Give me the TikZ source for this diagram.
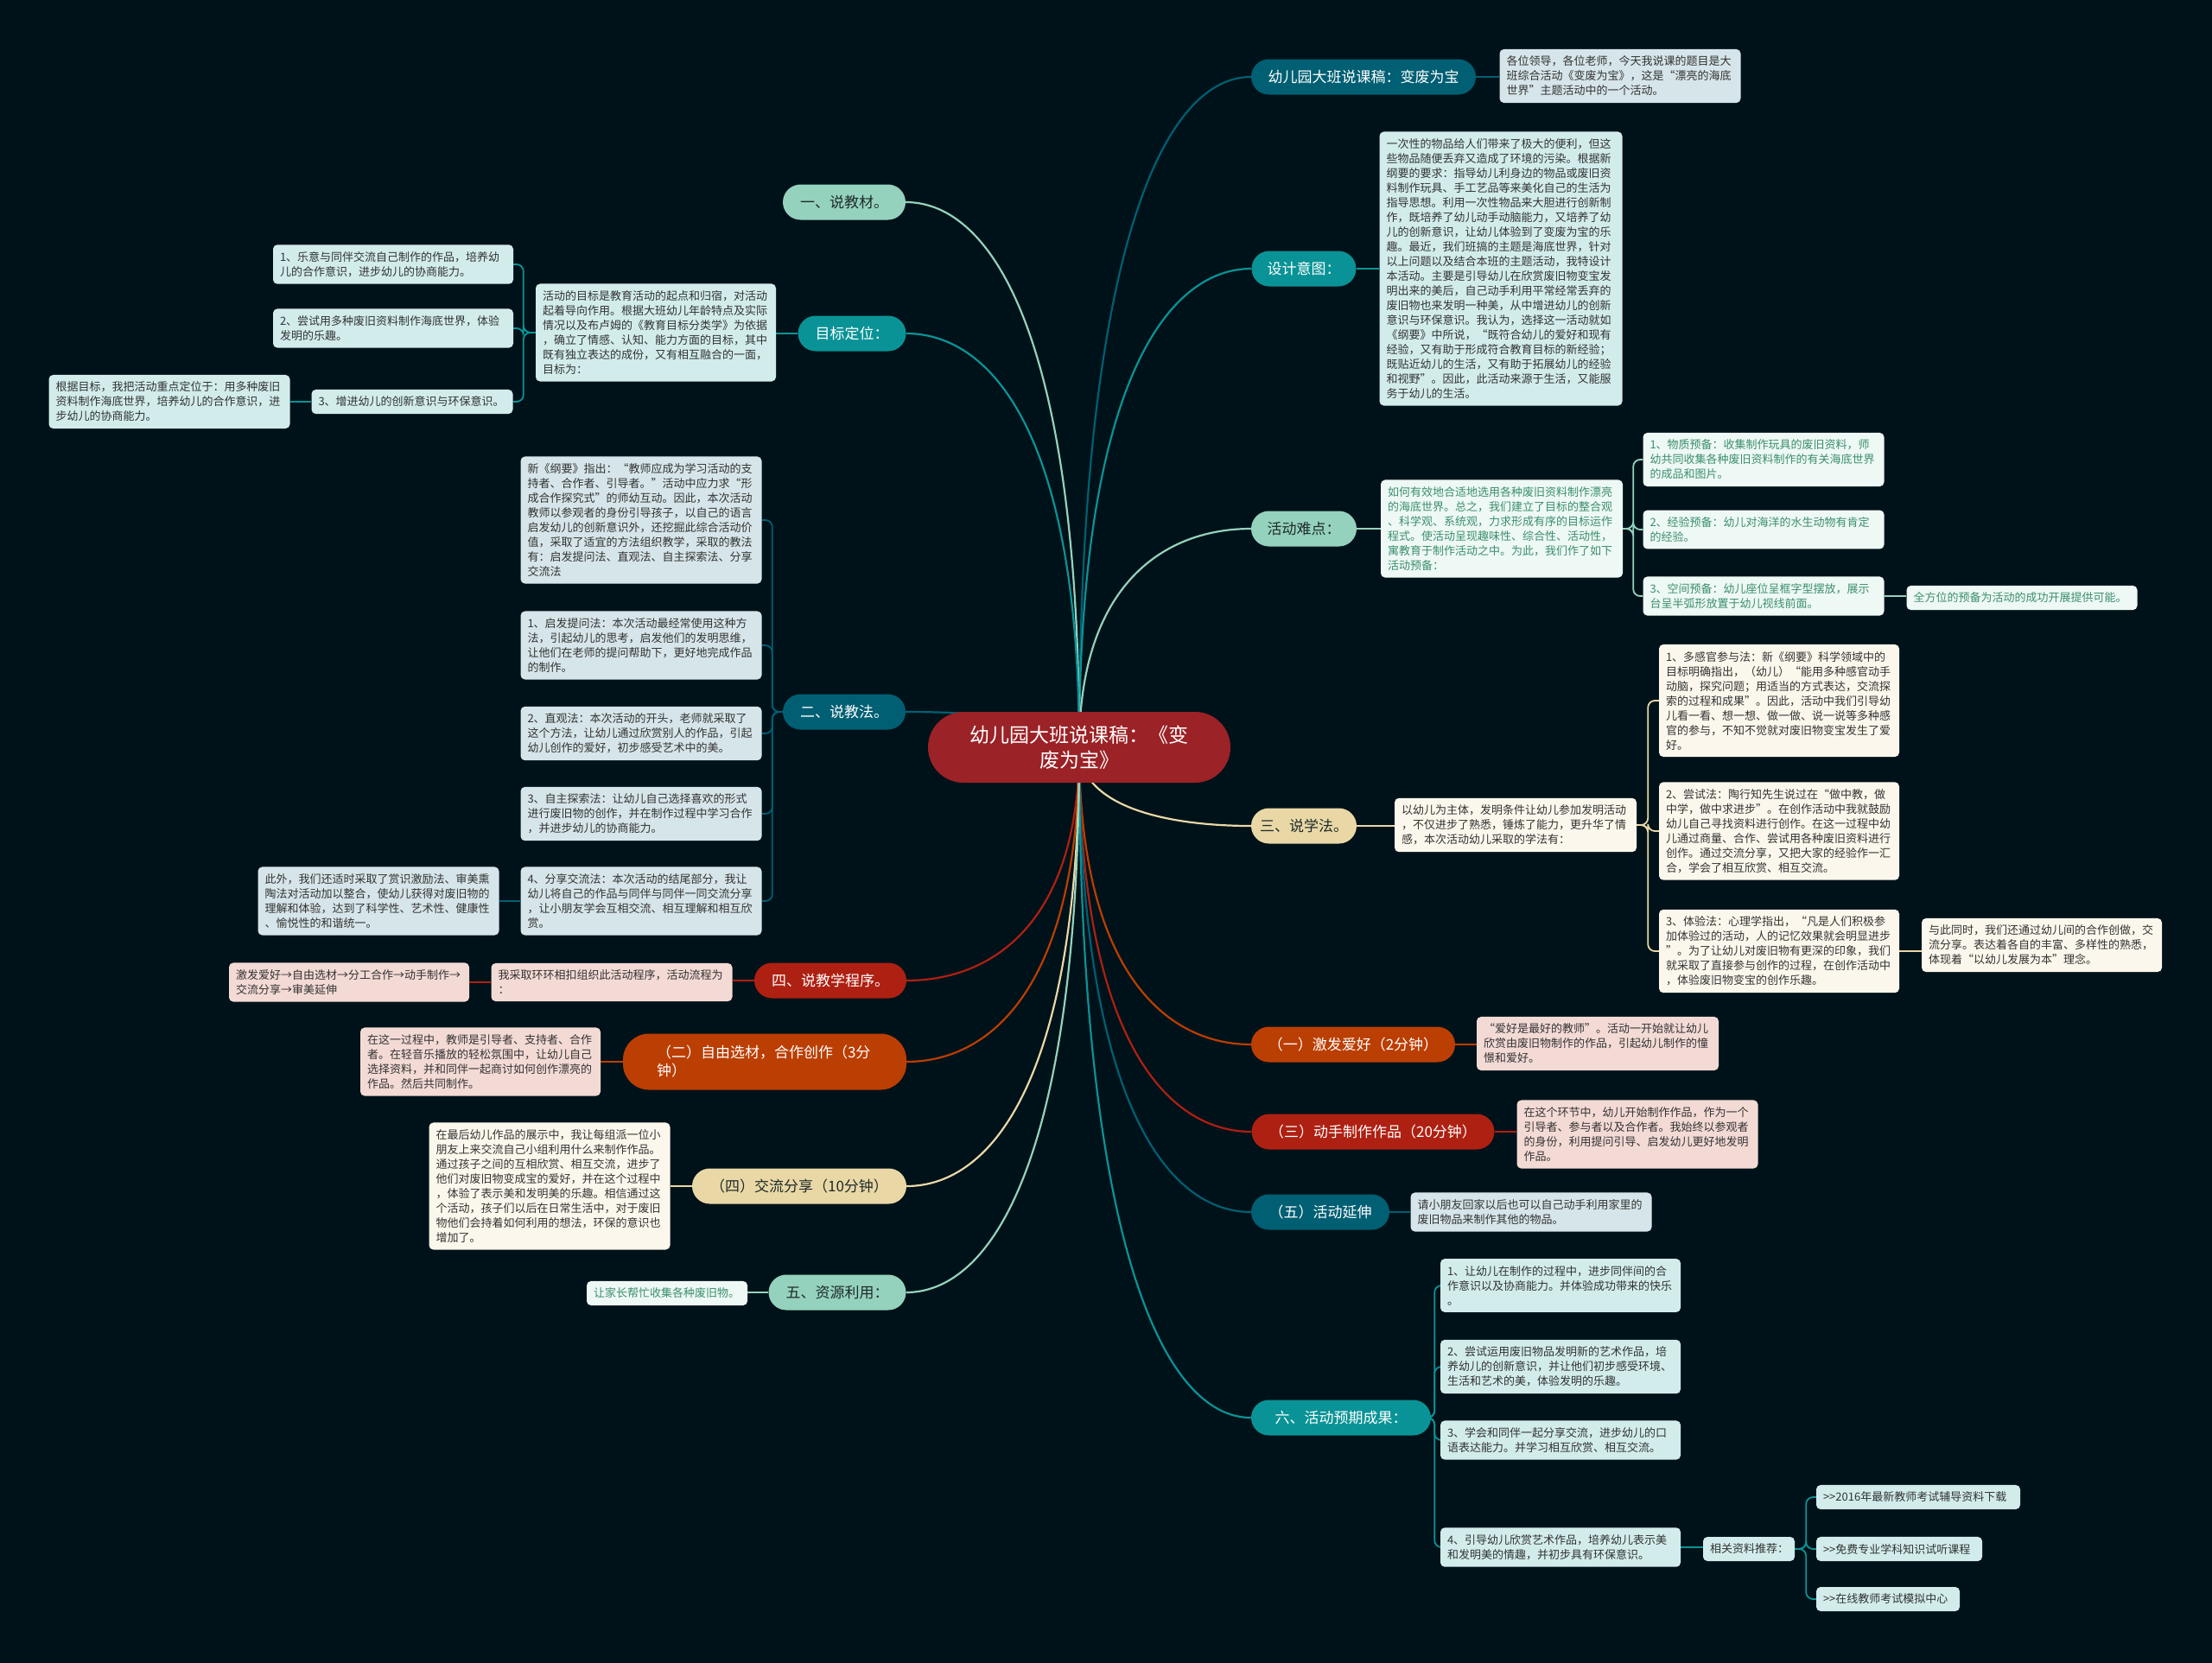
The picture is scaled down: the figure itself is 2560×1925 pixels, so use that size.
\documentclass[tikz,border=0pt]{standalone}
\usepackage{fontspec}
\setmainfont{Noto Sans CJK SC}
\usetikzlibrary{calc}
\pgfdeclarelayer{bglayer}
\pgfdeclarelayer{edgelayer}
\pgfsetlayers{bglayer,edgelayer,main}
\definecolor{bgc}{HTML}{001219}
\definecolor{cDT}{HTML}{005F73}
\definecolor{cT}{HTML}{0A9396}
\definecolor{cM}{HTML}{94D2BD}
\definecolor{cB}{HTML}{E9D8A6}
\definecolor{cO}{HTML}{BB3E03}
\definecolor{cR}{HTML}{AE2012}
\definecolor{cRoot}{HTML}{9B2226}
\definecolor{fDT}{HTML}{D6E5E9}
\definecolor{fT}{HTML}{D2ECEC}
\definecolor{fM}{HTML}{EEF8F4}
\definecolor{fB}{HTML}{FBF7EC}
\definecolor{fR}{HTML}{F3DAD5}
\definecolor{txt}{HTML}{333333}
\definecolor{txtM}{HTML}{3A8F6E}
\definecolor{dark}{HTML}{1E2A2A}
\tikzset{
  mn/.style={rounded corners=20.5pt, inner sep=0pt, minimum height=41pt, font=\fontsize{17}{21}\selectfont, align=center},
  tb/.style={rounded corners=5pt, inner xsep=8pt, inner ysep=8pt, align=left, font=\fontsize{13}{17}\selectfont, text=txt},
  lk/.style={line width=1.8pt, rounded corners=8pt},
}
\newcommand\redge[3]{\draw[#1,line width=2.2pt] (root.center) .. controls ($(root.center)!0.75!(root.center|-#2.#3)$) and ($(#2.#3)!0.5!(root.center|-#2.#3)$) .. (#2.#3);}
\newcommand\gtgt{>{}>}
\begin{document}
\begin{tikzpicture}[x=1pt,y=-1pt]
\begin{pgfonlayer}{bglayer}
\fill[bgc] (0,0) rectangle (2560,1925);
\end{pgfonlayer}
\useasboundingbox (0,0) rectangle (2560,1925);

% root
\node[fill=cRoot, text=white, rounded corners=41pt, minimum width=350pt, minimum height=82pt, inner sep=0pt, align=center, font=\fontsize{23}{29}\selectfont] (root) at (1249,865) {幼儿园大班说课稿：《变\\废为宝》};

% ---------- right side ----------
\node[mn, fill=cDT, text=white, minimum width=260pt] (R1) at (1578,89) {幼儿园大班说课稿：变废为宝};
\node[tb, fill=fDT, text width=263pt] (R1t) at (1875,88) {各位领导，各位老师，今天我说课的题目是大\\班综合活动《变废为宝》，这是“漂亮的海底\\世界”主题活动中的一个活动。};

\node[mn, fill=cT, text=white, minimum width=121pt] (R2) at (1509,311) {设计意图：};
\node[tb, fill=fT, text width=265pt] (R2t) at (1737,311) {一次性的物品给人们带来了极大的便利，但这\\些物品随便丢弃又造成了环境的污染。根据新\\纲要的要求：指导幼儿利身边的物品或废旧资\\料制作玩具、手工艺品等来美化自己的生活为\\指导思想。利用一次性物品来大胆进行创新制\\作，既培养了幼儿动手动脑能力，又培养了幼\\儿的创新意识，让幼儿体验到了变废为宝的乐\\趣。最近，我们班搞的主题是海底世界，针对\\以上问题以及结合本班的主题活动，我特设计\\本活动。主要是引导幼儿在欣赏废旧物变宝发\\明出来的美后，自己动手利用平常经常丢弃的\\废旧物也来发明一种美，从中增进幼儿的创新\\意识与环保意识。我认为，选择这一活动就如\\《纲要》中所说，“既符合幼儿的爱好和现有\\经验，又有助于形成符合教育目标的新经验；\\既贴近幼儿的生活，又有助于拓展幼儿的经验\\和视野”。因此，此活动来源于生活，又能服\\务于幼儿的生活。};

\node[mn, fill=cM, text=dark, minimum width=122pt] (R3) at (1509,612) {活动难点：};
\node[tb, fill=fM, text=txtM, text width=264pt] (R3t) at (1738,612) {如何有效地合适地选用各种废旧资料制作漂亮\\的海底世界。总之，我们建立了目标的整合观\\、科学观、系统观，力求形成有序的目标运作\\程式。使活动呈现趣味性、综合性、活动性，\\寓教育于制作活动之中。为此，我们作了如下\\活动预备：};
\node[tb, fill=fM, text=txtM, text width=263pt] (c1) at (2041,532) {1、物质预备：收集制作玩具的废旧资料，师\\幼共同收集各种废旧资料制作的有关海底世界\\的成品和图片。};
\node[tb, fill=fM, text=txtM, text width=263pt] (c2) at (2041,613) {2、经验预备：幼儿对海洋的水生动物有肯定\\的经验。};
\node[tb, fill=fM, text=txtM, text width=263pt] (c3) at (2041,690) {3、空间预备：幼儿座位呈框字型摆放，展示\\台呈半弧形放置于幼儿视线前面。};
\node[tb, fill=fM, text=txtM, text width=251pt] (c3x) at (2340,692) {全方位的预备为活动的成功开展提供可能。};

\node[mn, fill=cB, text=dark, minimum width=122pt] (R4) at (1509,956) {三、说学法。};
\node[tb, fill=fB, text width=264pt] (R4t) at (1754,955) {以幼儿为主体，发明条件让幼儿参加发明活动\\，不仅进步了熟悉，锤炼了能力，更升华了情\\感，本次活动幼儿采取的学法有：};
\node[tb, fill=fB, text width=262pt] (s1) at (2059,811) {1、多感官参与法：新《纲要》科学领域中的\\目标明确指出，（幼儿）“能用多种感官动手\\动脑，探究问题；用适当的方式表达，交流探\\索的过程和成果”。因此，活动中我们引导幼\\儿看一看、想一想、做一做、说一说等多种感\\官的参与，不知不觉就对废旧物变宝发生了爱\\好。};
\node[tb, fill=fB, text width=262pt] (s2) at (2059,962) {2、尝试法：陶行知先生说过在“做中教，做\\中学，做中求进步”。在创作活动中我就鼓励\\幼儿自己寻找资料进行创作。在这一过程中幼\\儿通过商量、合作、尝试用各种废旧资料进行\\创作。通过交流分享，又把大家的经验作一汇\\合，学会了相互欣赏、相互交流。};
\node[tb, fill=fB, text width=262pt] (s3) at (2059,1101) {3、体验法：心理学指出，“凡是人们积极参\\加体验过的活动，人的记忆效果就会明显进步\\”。为了让幼儿对废旧物有更深的印象，我们\\就采取了直接参与创作的过程，在创作活动中\\，体验废旧物变宝的创作乐趣。};
\node[tb, fill=fB, text width=262pt] (s3x) at (2363,1094) {与此同时，我们还通过幼儿间的合作创做，交\\流分享。表达着各自的丰富、多样性的熟悉，\\体现着“以幼儿发展为本”理念。};

\node[mn, fill=cO, text=white, minimum width=236pt] (R5) at (1566,1209) {（一）激发爱好（2分钟）};
\node[tb, fill=fR, text width=264pt] (R5t) at (1849,1208) {“爱好是最好的教师”。活动一开始就让幼儿\\欣赏由废旧物制作的作品，引起幼儿制作的憧\\憬和爱好。};

\node[mn, fill=cR, text=white, minimum width=281pt] (R6) at (1589,1310) {（三）动手制作作品（20分钟）};
\node[tb, fill=fR, text width=263pt] (R6t) at (1895,1313) {在这个环节中，幼儿开始制作作品，作为一个\\引导者、参与者以及合作者。我始终以参观者\\的身份，利用提问引导、启发幼儿更好地发明\\作品。};

\node[mn, fill=cDT, text=white, minimum width=160pt] (R7) at (1528,1403) {（五）活动延伸};
\node[tb, fill=fDT, text width=263pt] (R7t) at (1772,1403) {请小朋友回家以后也可以自己动手利用家里的\\废旧物品来制作其他的物品。};

\node[mn, fill=cT, text=white, minimum width=208pt] (R8) at (1552,1641) {六、活动预期成果：};
\node[tb, fill=fT, text width=262pt] (a1) at (1806,1488) {1、让幼儿在制作的过程中，进步同伴间的合\\作意识以及协商能力。并体验成功带来的快乐\\。};
\node[tb, fill=fT, text width=262pt] (a2) at (1806,1582) {2、尝试运用废旧物品发明新的艺术作品，培\\养幼儿的创新意识，并让他们初步感受环境、\\生活和艺术的美，体验发明的乐趣。};
\node[tb, fill=fT, text width=262pt] (a3) at (1806,1667) {3、学会和同伴一起分享交流，进步幼儿的口\\语表达能力。并学习相互欣赏、相互交流。};
\node[tb, fill=fT, text width=262pt] (a4) at (1806,1791) {4、引导幼儿欣赏艺术作品，培养幼儿表示美\\和发明美的情趣，并初步具有环保意识。};
\node[tb, fill=fT, text width=90pt] (a4x) at (2024,1793) {相关资料推荐：};
\node[tb, fill=fT, text width=220pt] (l1) at (2220,1733) {\gtgt 2016年最新教师考试辅导资料下载};
\node[tb, fill=fT, text width=176pt] (l2) at (2198,1793) {\gtgt 免费专业学科知识试听课程};
\node[tb, fill=fT, text width=150pt] (l3) at (2185,1851) {\gtgt 在线教师考试模拟中心};

% ---------- left side ----------
\node[mn, fill=cM, text=dark, minimum width=142pt] (L1) at (977,234) {一、说教材。};

\node[mn, fill=cT, text=white, minimum width=125pt] (L2) at (986,386) {目标定位：};
\node[tb, fill=fT, text width=262pt] (L2t) at (759,385) {活动的目标是教育活动的起点和归宿，对活动\\起着导向作用。根据大班幼儿年龄特点及实际\\情况以及布卢姆的《教育目标分类学》为依据\\，确立了情感、认知、能力方面的目标，其中\\既有独立表达的成份，又有相互融合的一面，\\目标为：};
\node[tb, fill=fT, text width=262pt] (g1) at (455,306) {1、乐意与同伴交流自己制作的作品，培养幼\\儿的合作意识，进步幼儿的协商能力。};
\node[tb, fill=fT, text width=262pt] (g2) at (455,380) {2、尝试用多种废旧资料制作海底世界，体验\\发明的乐趣。};
\node[tb, fill=fT, text width=217pt] (g3) at (477,465) {3、增进幼儿的创新意识与环保意识。};
\node[tb, fill=fT, text width=263pt] (g3x) at (196,465) {根据目标，我把活动重点定位于：用多种废旧\\资料制作海底世界，培养幼儿的合作意识，进\\步幼儿的协商能力。};

\node[mn, fill=cDT, text=white, minimum width=142pt] (L3) at (977,824) {二、说教法。};
\node[tb, fill=fDT, text width=263pt] (j0) at (742,602) {新《纲要》指出：“教师应成为学习活动的支\\持者、合作者、引导者。”活动中应力求“形\\成合作探究式”的师幼互动。因此，本次活动\\教师以参观者的身份引导孩子，以自己的语言\\启发幼儿的创新意识外，还挖掘此综合活动价\\值，采取了适宜的方法组织教学，采取的教法\\有：启发提问法、直观法、自主探索法、分享\\交流法};
\node[tb, fill=fDT, text width=263pt] (j1) at (742,747) {1、启发提问法：本次活动最经常使用这种方\\法，引起幼儿的思考，启发他们的发明思维，\\让他们在老师的提问帮助下，更好地完成作品\\的制作。};
\node[tb, fill=fDT, text width=263pt] (j2) at (742,849) {2、直观法：本次活动的开头，老师就采取了\\这个方法，让幼儿通过欣赏别人的作品，引起\\幼儿创作的爱好，初步感受艺术中的美。};
\node[tb, fill=fDT, text width=263pt] (j3) at (742,942) {3、自主探索法：让幼儿自己选择喜欢的形式\\进行废旧物的创作，并在制作过程中学习合作\\，并进步幼儿的协商能力。};
\node[tb, fill=fDT, text width=263pt] (j4) at (742,1043) {4、分享交流法：本次活动的结尾部分，我让\\幼儿将自己的作品与同伴与同伴一同交流分享\\，让小朋友学会互相交流、相互理解和相互欣\\赏。};
\node[tb, fill=fDT, text width=263pt] (j4x) at (438,1043) {此外，我们还适时采取了赏识激励法、审美熏\\陶法对活动加以整合，使幼儿获得对废旧物的\\理解和体验，达到了科学性、艺术性、健康性\\、愉悦性的和谐统一。};

\node[mn, fill=cR, text=white, minimum width=176pt] (L4) at (961,1135) {四、说教学程序。};
\node[tb, fill=fR, text width=263pt] (L4t) at (708,1137) {我采取环环相扣组织此活动程序，活动流程为\\：};
\node[tb, fill=fR, text width=262pt] (L4x) at (404,1137) {激发爱好→自由选材→分工合作→动手制作→\\交流分享→审美延伸};

\node[mn, fill=cO, text=white, minimum width=328pt, minimum height=65pt, rounded corners=30pt, text width=250pt, align=left] (L5) at (885,1229) {（二）自由选材，合作创作（3分\\钟）};
\node[tb, fill=fR, text width=262pt] (L5t) at (556,1229) {在这一过程中，教师是引导者、支持者、合作\\者。在轻音乐播放的轻松氛围中，让幼儿自己\\选择资料，并和同伴一起商讨如何创作漂亮的\\作品。然后共同制作。};

\node[mn, fill=cB, text=dark, minimum width=248pt] (L6) at (925,1373) {（四）交流分享（10分钟）};
\node[tb, fill=fB, text width=263pt] (L6t) at (636,1373) {在最后幼儿作品的展示中，我让每组派一位小\\朋友上来交流自己小组利用什么来制作作品。\\通过孩子之间的互相欣赏、相互交流，进步了\\他们对废旧物变成宝的爱好，并在这个过程中\\，体验了表示美和发明美的乐趣。相信通过这\\个活动，孩子们以后在日常生活中，对于废旧\\物他们会持着如何利用的想法，环保的意识也\\增加了。};

\node[mn, fill=cM, text=dark, minimum width=159pt] (L7) at (969,1496) {五、资源利用：};
\node[tb, fill=fM, text=txtM, text width=170pt] (L7t) at (772,1497) {让家长帮忙收集各种废旧物。};

% ---------- connectors ----------
\begin{pgfonlayer}{edgelayer}
\redge{cDT}{R1}{west}
\redge{cT}{R2}{west}
\redge{cM}{R3}{west}
\redge{cB}{R4}{west}
\redge{cO}{R5}{west}
\redge{cR}{R6}{west}
\redge{cDT}{R7}{west}
\redge{cT}{R8}{west}
\redge{cM}{L1}{east}
\redge{cT}{L2}{east}
\redge{cDT}{L3}{east}
\redge{cR}{L4}{east}
\redge{cO}{L5}{east}
\redge{cB}{L6}{east}
\redge{cM}{L7}{east}

\draw[lk,cDT] (R1.east) -- (R1.east -| R1t.west);
\draw[lk,cT] (R2.east) -- (R2.east -| R2t.west);
\draw[lk,cM] (R3.east) -- (R3.east -| R3t.west);
\foreach \q in {c1,c2,c3} \draw[lk,cM] (R3t.east) -- ++(12,0) |- (\q.west);
\draw[lk,cM] (c3.east) -- (c3.east -| c3x.west);
\draw[lk,cB] (R4.east) -- (R4.east -| R4t.west);
\foreach \q in {s1,s2,s3} \draw[lk,cB] (R4t.east) -- ++(13,0) |- (\q.west);
\draw[lk,cB] (s3.east) -- (s3.east -| s3x.west);
\draw[lk,cO] (R5.east) -- (R5.east -| R5t.west);
\draw[lk,cR] (R6.east) -- (R6.east -| R6t.west);
\draw[lk,cDT] (R7.east) -- (R7.east -| R7t.west);
\foreach \q in {a1,a2,a3,a4} \draw[lk,cT] (R8.east) -- ++(4,0) |- (\q.west);
\draw[lk,cT] (a4.east) -- (a4.east -| a4x.west);
\foreach \q in {l1,l2,l3} \draw[lk,cT] (a4x.east) -- ++(13,0) |- (\q.west);

\draw[lk,cT] (L2.west) -- (L2.west -| L2t.east);
\foreach \q in {g1,g2,g3} \draw[lk,cT] (L2t.west) -- ++(-14,0) |- (\q.east);
\draw[lk,cT] (g3.west) -- (g3.west -| g3x.east);
\foreach \q in {j0,j1,j2,j3,j4} \draw[lk,cDT] (L3.west) -- ++(-12,0) |- (\q.east);
\draw[lk,cDT] (j4.west) -- (j4.west -| j4x.east);
\draw[lk,cR] (L4.west) -- (L4.west -| L4t.east);
\draw[lk,cR] (L4t.west) -- (L4t.west -| L4x.east);
\draw[lk,cO] (L5.west) -- (L5.west -| L5t.east);
\draw[lk,cB] (L6.west) -- (L6.west -| L6t.east);
\draw[lk,cM] (L7.west) -- (L7.west -| L7t.east);
\end{pgfonlayer}
\end{tikzpicture}
\end{document}
